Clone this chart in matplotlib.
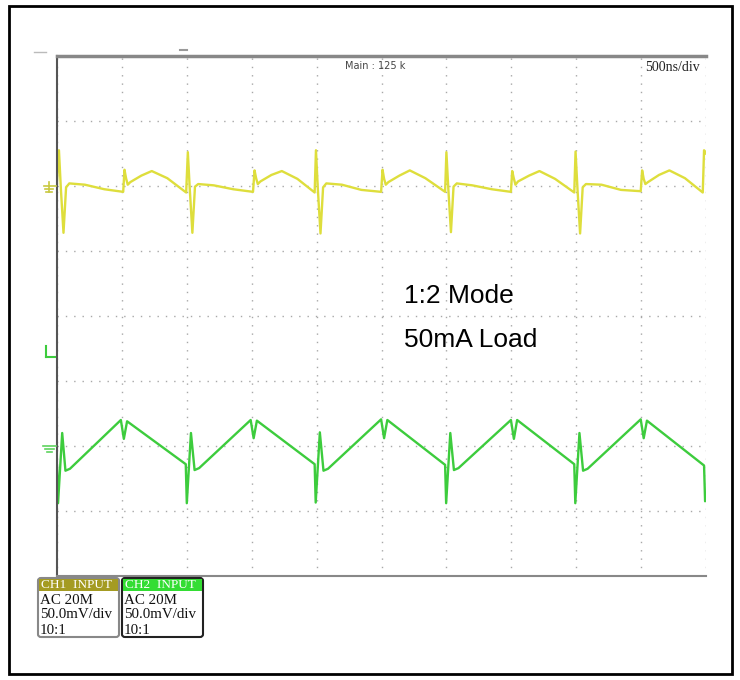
import matplotlib.pyplot as plt
from matplotlib.patches import Rectangle, FancyBboxPatch
from matplotlib.lines import Line2D

# --- data (time in ns, level in divisions, 0 = bottom) ---
ch1_t = [0, 15, 30, 50, 70, 95, 215, 365, 510, 520, 532, 545, 565, 650, 730, 850, 995,
         1008, 1023, 1043, 1063, 1088, 1208, 1358, 1510, 1522, 1534, 1547, 1567, 1652, 1732, 1852, 1985,
         1995, 2010, 2030, 2050, 2075, 2195, 2345, 2497, 2508, 2520, 2533, 2553, 2638, 2718, 2838, 2990,
         3000, 3015, 3035, 3055, 3080, 3200, 3350, 3497, 3507, 3519, 3532, 3552, 3637, 3717, 3837, 3985,
         3995, 4010, 4030, 4050, 4075, 4195, 4345, 4497, 4508, 4520, 4533, 4553, 4638, 4718, 4838, 4975,
         4985, 5000]
ch1_v = [6.05, 6.55, 5.95, 5.28, 5.98, 6.04, 6.02, 5.95, 5.91, 6.25, 6.12, 6.02, 6.06, 6.16, 6.23, 6.12, 5.90,
         6.52, 5.95, 5.28, 5.99, 6.03, 6.01, 5.95, 5.91, 6.24, 6.12, 6.03, 6.07, 6.17, 6.23, 6.11, 5.90,
         6.55, 5.94, 5.27, 5.98, 6.04, 6.02, 5.94, 5.91, 6.25, 6.11, 6.02, 6.06, 6.16, 6.24, 6.12, 5.91,
         6.52, 5.95, 5.29, 5.99, 6.04, 6.01, 5.95, 5.91, 6.23, 6.12, 6.02, 6.07, 6.16, 6.23, 6.11, 5.90,
         6.53, 5.95, 5.27, 5.98, 6.03, 6.02, 5.94, 5.92, 6.24, 6.11, 6.03, 6.06, 6.17, 6.24, 6.12, 5.90,
         6.55, 6.50]

ch2_t = [0, 8, 40, 65, 100, 492, 515, 540, 992,
         1000, 1032, 1060, 1095, 1492, 1515, 1540, 1985,
         1993, 2025, 2053, 2088, 2497, 2520, 2545, 2990,
         2998, 3030, 3058, 3093, 3497, 3520, 3545, 3985,
         3993, 4025, 4053, 4088, 4497, 4520, 4545, 4985,
         4993, 5000]
ch2_v = [1.70, 1.12, 2.20, 1.62, 1.65, 2.40, 2.11, 2.38, 1.72,
         1.12, 2.20, 1.63, 1.66, 2.40, 2.12, 2.39, 1.72,
         1.13, 2.21, 1.62, 1.65, 2.41, 2.12, 2.40, 1.71,
         1.12, 2.20, 1.63, 1.66, 2.40, 2.11, 2.40, 1.72,
         1.12, 2.20, 1.62, 1.65, 2.41, 2.12, 2.39, 1.70,
         1.15, 1.20]

x_divs = list(range(0, 5001, 500))
y_divs = list(range(0, 9))

W, H = 740, 680


def fx(x):
    return x / W


def fy(y):
    return 1 - y / H


fig = plt.figure(figsize=(7.4, 6.8), dpi=100)
ax = fig.add_axes([fx(57), fy(576), fx(706) - fx(57), fy(56) - fy(576)])

ax.plot(ch1_t, ch1_v, color="#dede3c", lw=1.7, solid_joinstyle="round")
ax.plot(ch2_t, ch2_v, color="#3dcc3d", lw=1.7, solid_joinstyle="round")

ax.set_xlim(0, 5000)
ax.set_ylim(0, 8)
ax.set_xticks(x_divs)
ax.set_yticks(y_divs)
ax.tick_params(length=0, labelbottom=False, labelleft=False)
ax.grid(True, color="#a8a8a8", linestyle=(0, (1, 5)), lw=1.0)
ax.spines["right"].set_visible(False)
ax.spines["left"].set_color("#555555")
ax.spines["left"].set_linewidth(1.5)
ax.spines["top"].set_color("#888888")
ax.spines["top"].set_linewidth(2.5)
ax.spines["bottom"].set_color("#888888")
ax.spines["bottom"].set_linewidth(1.5)

ax.text(0.49, 0.981, "Main : 125 k", transform=ax.transAxes, fontsize=7,
        color="#444444", ha="center", va="center")
ax.text(0.991, 0.977, "500ns/div", transform=ax.transAxes, fontsize=10,
        family="Liberation Serif", color="#222222", ha="right", va="center")

fig.text(fx(404), fy(303), "1:2 Mode", fontsize=19, family="Liberation Sans",
         va="baseline")
fig.text(fx(404), fy(347), "50mA Load", fontsize=19, family="Liberation Sans",
         va="baseline")


def line(xs, ys, color, lw=1.2):
    fig.add_artist(Line2D([fx(v) for v in xs], [fy(v) for v in ys],
                          color=color, lw=lw))


# channel markers on the left edge
line([44, 56], [186, 186], "#c8c840")
line([45, 53], [189, 189], "#c8c840")
line([46, 52], [192, 192], "#c8c840")
line([49, 49], [182, 192], "#c8c840")
line([46, 46], [346, 357], "#3dcc3d", 1.5)
line([46, 55], [357, 357], "#3dcc3d", 1.5)
line([43, 56], [446, 446], "#5fd35f")
line([45, 54], [449, 449], "#5fd35f")
line([47, 52], [452, 452], "#5fd35f")
line([34, 46], [52, 52], "#bbbbbb", 1.0)
line([180, 187], [50, 50], "#999999", 1.5)

# channel info boxes
boxes = [(38, 119, "#a49b22", "#888888", "CH1  INPUT"),
         (122, 203, "#33dd33", "#222222", "CH2  INPUT")]
for x0, x1, head, edge, label in boxes:
    fig.add_artist(FancyBboxPatch((fx(x0), fy(637)), fx(x1) - fx(x0), fy(578) - fy(637),
                                  boxstyle="round,pad=0,rounding_size=0.004",
                                  fc="white", ec=edge, lw=1.5))
    fig.add_artist(Rectangle((fx(x0 + 1), fy(591)), fx(x1 - 1) - fx(x0 + 1), fy(579) - fy(591),
                             fc=head, ec="none"))
    fig.text(fx(x0 + 3), fy(585), label, fontsize=9.5, color="white",
             family="Liberation Serif", va="center")
    for y, txt in [(601, "AC 20M"), (615, "50.0mV/div"), (630, "10:1")]:
        fig.text(fx(x0 + 2), fy(y), txt, fontsize=10.8, family="Liberation Serif",
                 color="#111111", va="center")

# outer frame
fig.add_artist(Rectangle((fx(9), fy(674)), fx(732) - fx(9), fy(6) - fy(674),
                         fill=False, ec="black", lw=2))

fig.savefig("out.png", dpi=100)
